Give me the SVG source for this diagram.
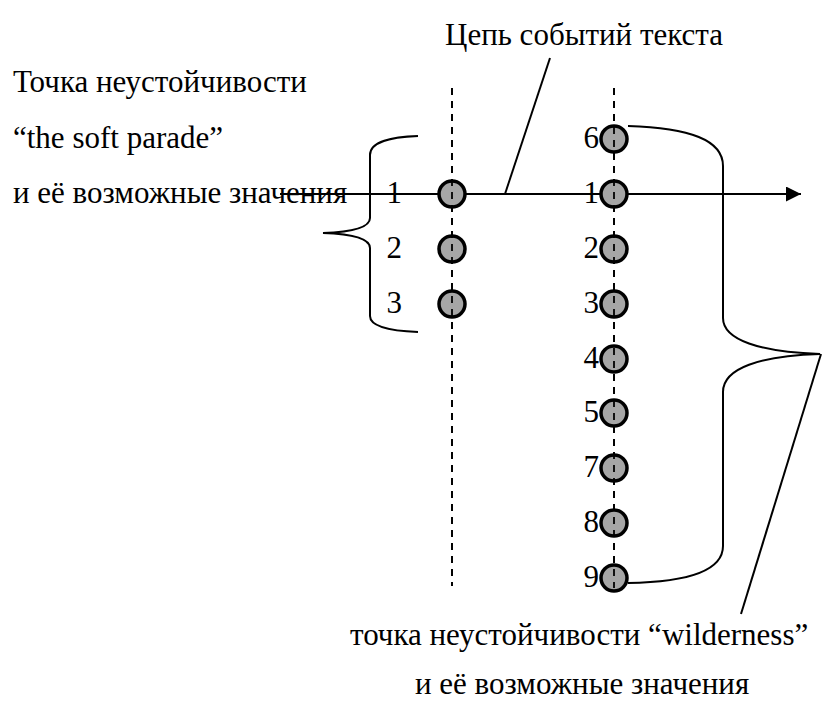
<svg xmlns="http://www.w3.org/2000/svg" width="827" height="702" viewBox="0 0 827 702">
  <style>
    text { font-family: "Liberation Serif", "Times New Roman", serif; font-size: 31px; fill: #000; }
    .num { text-anchor: end; }
    .pt { fill: #a6a6a6; stroke: #000; stroke-width: 3.5; }
    .axis { stroke: #000; stroke-width: 1.8; stroke-dasharray: 7 6; fill: none; }
    .line { stroke: #000; stroke-width: 2; fill: none; }
    .brace { stroke: #000; stroke-width: 2; fill: none; }
  </style>
  <defs>
    <marker id="arrowhead" markerUnits="userSpaceOnUse" markerWidth="16" markerHeight="16" refX="15" refY="7.5" orient="auto">
      <path d="M0,0 L15,7.5 L0,15 Z" fill="#000"/>
    </marker>
  </defs>

  <rect width="827" height="702" fill="#fff"/>

  <!-- vertical dashed axes of the two points -->
  <g id="axes">
    <line class="axis" x1="452" y1="88" x2="452" y2="586"/>
    <line class="axis" x1="614" y1="88" x2="614" y2="588"/>
  </g>

  <!-- labels -->
  <g id="label-soft-parade">
    <text x="13" y="92">Точка неустойчивости</text>
    <text x="13" y="148">“the soft parade”</text>
    <text x="13" y="203">и её возможные значения</text>
  </g>
  <g id="label-chain">
    <text x="445" y="45">Цепь событий текста</text>
  </g>
  <g id="label-wilderness">
    <text x="350" y="645">точка неустойчивости “wilderness”</text>
    <text x="415" y="694">и её возможные значения</text>
  </g>

  <!-- connectors: event chain arrow, pointers and braces -->
  <g id="connectors">
    <line class="line" x1="280" y1="194" x2="801" y2="194" marker-end="url(#arrowhead)"/>
    <line class="line" x1="550" y1="58" x2="505" y2="194"/>
    <line class="line" x1="821" y1="354" x2="741" y2="614"/>
    <path class="brace" d="M418,136 C392,137 370,141 370,155 L370,218 C370,228 352,232 323,233 C352,234 370,238 370,248 L370,316 C370,327 392,331 418,332"/>
    <path class="brace" d="M628,126 C690,128 723,140 723,166 L723,318 C723,340 760,352 820,354 C760,356 723,368 723,392 L723,546 C723,570 690,582 628,583"/>
  </g>

  <!-- values of "the soft parade" -->
  <g id="sp-1"><circle class="pt" cx="452" cy="194" r="13"/><text class="num" x="402" y="203">1</text></g>
  <g id="sp-2"><circle class="pt" cx="452" cy="249" r="13"/><text class="num" x="402" y="258">2</text></g>
  <g id="sp-3"><circle class="pt" cx="452" cy="304" r="13"/><text class="num" x="402" y="313">3</text></g>

  <!-- values of "wilderness" -->
  <g id="w-6"><circle class="pt" cx="614" cy="139" r="13"/><text class="num" x="599" y="148">6</text></g>
  <g id="w-1"><circle class="pt" cx="614" cy="194" r="13"/><text class="num" x="599" y="203">1</text></g>
  <g id="w-2"><circle class="pt" cx="614" cy="249" r="13"/><text class="num" x="599" y="258">2</text></g>
  <g id="w-3"><circle class="pt" cx="614" cy="304" r="13"/><text class="num" x="599" y="313">3</text></g>
  <g id="w-4"><circle class="pt" cx="614" cy="359" r="13"/><text class="num" x="599" y="368">4</text></g>
  <g id="w-5"><circle class="pt" cx="614" cy="413" r="13"/><text class="num" x="599" y="422">5</text></g>
  <g id="w-7"><circle class="pt" cx="614" cy="468" r="13"/><text class="num" x="599" y="477">7</text></g>
  <g id="w-8"><circle class="pt" cx="614" cy="523" r="13"/><text class="num" x="599" y="532">8</text></g>
  <g id="w-9"><circle class="pt" cx="614" cy="578" r="13"/><text class="num" x="599" y="587">9</text></g>

  <!-- dashed axis redrawn over the circles -->
  <g id="axes-over">
    <line class="axis" x1="452" y1="88" x2="452" y2="586"/>
    <line class="axis" x1="614" y1="88" x2="614" y2="588"/>
  </g>
</svg>
